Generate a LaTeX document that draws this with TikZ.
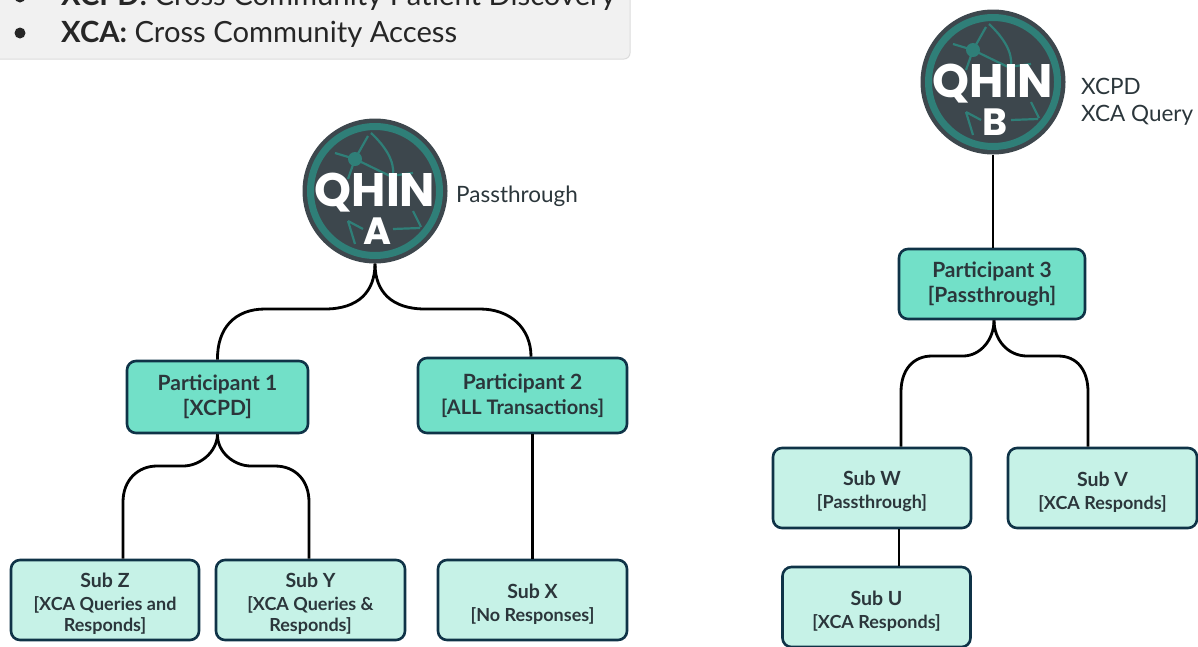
\documentclass[tikz,border=0pt]{standalone}
\usepackage{fontspec}
\setmainfont{Lato}
\newfontfamily\logofont{Poppins}
\usepackage{xcolor}
\definecolor{globedark}{HTML}{3D474D}
\definecolor{globeteal}{HTML}{2F7F78}
\definecolor{boxedge}{HTML}{0F3347}
\definecolor{partfill}{HTML}{72E0C8}
\definecolor{subfill}{HTML}{C6F2E7}
\definecolor{boxtext}{HTML}{2B363B}
\definecolor{notefill}{HTML}{F1F1F1}
\definecolor{noteedge}{HTML}{DCDCDC}

\newcommand{\subtitle}[1]{{\fontsize{19.5}{24}\selectfont\rule{0pt}{22pt}#1}}

\tikzset{
  wire/.style={draw=black,line width=2.8pt},
  partbox/.style={draw=boxedge,line width=2.6pt,rounded corners=9pt,fill=partfill,inner sep=0pt,align=center,text=boxtext,font=\fontsize{21}{25}\selectfont\bfseries},
  subbox/.style={draw=boxedge,line width=2.6pt,rounded corners=9pt,fill=subfill,inner sep=0pt,align=center,text=boxtext,font=\fontsize{18}{21}\selectfont\bfseries},
  sidetext/.style={anchor=west,inner sep=0pt,text=boxtext,font=\fontsize{22.5}{26}\selectfont},
  notetext/.style={anchor=west,inner sep=0pt,text=black!85,font=\fontsize{29.2}{34}\selectfont},
  netline/.style={draw=globeteal,line width=2.2pt}
}

% globe with the QHIN lettering
\newcommand{\qhinlogo}[4]{
\node[circle,fill=globedark,minimum size=145pt,inner sep=0pt] (#1) at (#2,#3) {};
\begin{scope}[shift={(#2,#3)}]
\draw[draw=globeteal,line width=7pt] (0,0) circle (64.5pt);
\fill[globeteal] (-20,-32) circle (7pt);
\draw[netline] (-20,-32)--(-7,-55) (-20,-32)--(-40,-38) (-20,-32)--(-27,-12) (-20,-32)--(15,-15)--(38,-18);
\draw[netline] (-4,-58) .. controls (10,-45) and (20,-30) .. (18,-15);
\draw[netline] (-27,30)--(-20,53) (-27,30)--(-12,38) (18,38)--(45,37) (38,20)--(46,36);
\node[inner sep=0pt,text=white,font=\fontsize{47}{47}\selectfont\logofont\bfseries] (#1word) at (0,2) {QHIN};
\node[inner sep=0pt,text=white,font=\fontsize{38}{38}\selectfont\logofont\bfseries] (#1letter) at (2,40) {#4};
\end{scope}
}

\begin{document}
\begin{tikzpicture}[x=1pt,y=-1pt]

\useasboundingbox (0,0) rectangle (1198,646);
\clip (0,0) rectangle (1198,646);

% note at the top
\draw[fill=notefill,draw=noteedge,line width=1pt,rounded corners=6pt] (-12,-40) rectangle (630,59);
\fill[black!85] (20,-3) circle (5.5pt);
\fill[black!85] (20,33) circle (5.5pt);
\node[notetext] (xcpdnote) at (61,-3) {\textbf{XCPD:} Cross Community Patient Discovery};
\node[notetext] (xcanote) at (61,34) {\textbf{XCA:} Cross Community Access};

% left tree
\qhinlogo{qhinA}{375}{191}{A}
\node[sidetext] (passA) at (456,196) {Passthrough};

\node[partbox,minimum width=181pt,minimum height=72pt] (partOne) at (217.5,397) {Participant 1\\{}[XCPD]};
\node[partbox,minimum width=209pt,minimum height=75pt] (partTwo) at (522.5,395.5) {Participant 2\\{\fontsize{20}{21}\selectfont [ALL Transactions]}};

\node[subbox,minimum width=188pt,minimum height=80pt] (subZ) at (105,600) {\subtitle{Sub Z}\\[2pt]{}[XCA Queries and\\Responds]};
\node[subbox,minimum width=189pt,minimum height=80pt] (subY) at (310.5,600) {\subtitle{Sub Y}\\[2pt]{}[XCA Queries \&\\Responds]};
\node[subbox,minimum width=189pt,minimum height=80pt] (subX) at (532.5,600) {\subtitle{Sub X}\\[2pt]{}[No Responses]};

\draw[wire] (qhinA.south) .. controls (375,292) and (358,309) .. (325,309) -- (265,309) .. controls (235,309) and (217,328) .. (partOne.north);
\draw[wire] (qhinA.south) .. controls (375,292) and (392,309) .. (425,309) -- (480,309) .. controls (510,309) and (531,328) .. ([xshift=8.5pt]partTwo.north);
\draw[wire] (partOne.south) .. controls (217,452) and (200,466) .. (183,466) -- (157,466) .. controls (138,466) and (123,480) .. (123,502) -- ([xshift=18pt]subZ.north);
\draw[wire] (partOne.south) .. controls (217,452) and (234,466) .. (251,466) -- (275,466) .. controls (295,466) and (309,480) .. (309,502) -- ([xshift=-1.5pt]subY.north);
\draw[wire] ([xshift=10pt]partTwo.south) -- (subX.north);

% right tree
\qhinlogo{qhinB}{993}{82}{B}
\node[sidetext] (xcpdB) at (1081,86) {XCPD};
\node[sidetext] (xcaB) at (1081,115) {XCA Query};

\node[partbox,minimum width=186pt,minimum height=70pt] (partThree) at (992,284) {Participant 3\\{}[Passthrough]};

\node[subbox,minimum width=198pt,minimum height=80pt] (subW) at (872,488) {\subtitle{Sub W}\\[2pt]{}[Passthrough]};
\node[subbox,minimum width=189pt,minimum height=80pt] (subV) at (1102.5,488) {\subtitle{Sub V}\\[2pt]{}[XCA Responds]};
\node[subbox,minimum width=188pt,minimum height=80pt] (subU) at (876.5,607) {\subtitle{Sub U}\\[2pt]{}[XCA Responds]};

\draw[wire] (qhinB.south) -- ([xshift=1pt]partThree.north);
\draw[wire] ([xshift=2pt]partThree.south) .. controls (994,340) and (980,356) .. (963,356) -- (932,356) .. controls (913,356) and (901,370) .. (901,392) -- ([xshift=29pt]subW.north);
\draw[wire] ([xshift=2pt]partThree.south) .. controls (994,340) and (1008,356) .. (1027,356) -- (1058,356) .. controls (1077,356) and (1088,370) .. (1088,392) -- ([xshift=-14.5pt]subV.north);
\draw[wire] ([xshift=27pt]subW.south) -- ([xshift=22.5pt]subU.north);

\end{tikzpicture}
\end{document}
